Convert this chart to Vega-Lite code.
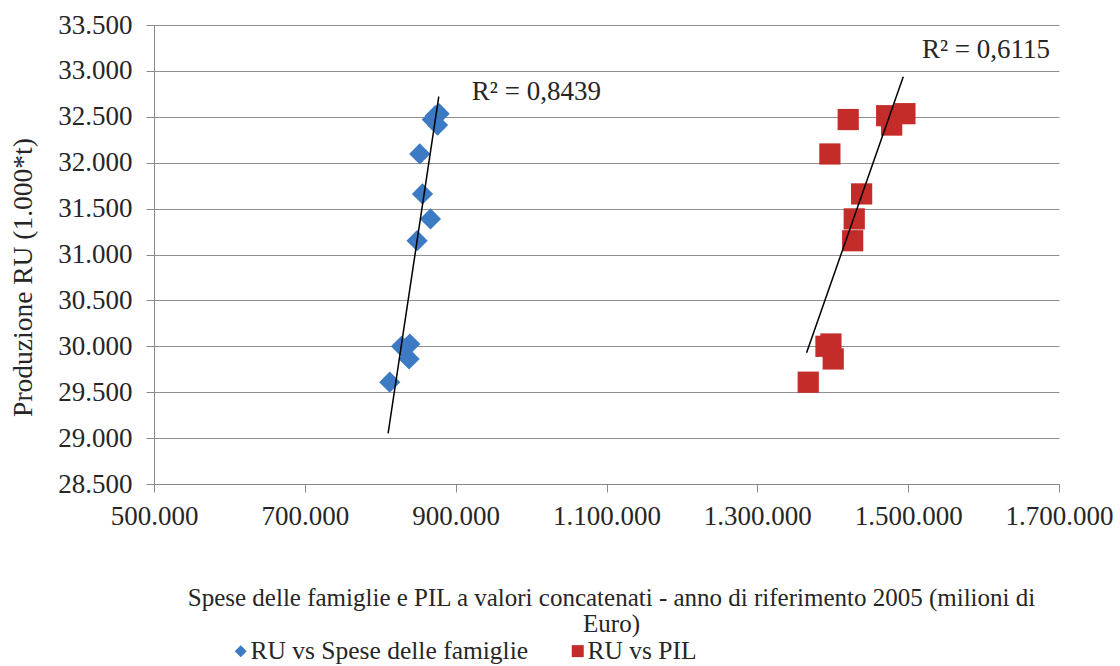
{
  "$schema": "https://vega.github.io/schema/vega-lite/v6.json",
  "autosize": {"type": "none"},
  "width": 905,
  "height": 459,
  "padding": {"left": 154, "top": 25, "right": 61, "bottom": 182},
  "background": "white",
  "config": {
    "locale": {"number": {"decimal": ",", "thousands": ".", "grouping": [3], "currency": ["€", ""]}},
    "view": {"stroke": null},
    "font": "Liberation Serif, Times New Roman, serif",
    "text": {"font": "Liberation Serif, Times New Roman, serif"},
    "axis": {"labelFont": "Liberation Serif, Times New Roman, serif", "titleFont": "Liberation Serif, Times New Roman, serif"},
    "legend": {"labelFont": "Liberation Serif, Times New Roman, serif", "titleFont": "Liberation Serif, Times New Roman, serif"}
  },
  "datasets": {
    "points": [
      {"serie": "RU vs Spese delle famiglie", "anno": 2001, "x": 812600, "y": 29609},
      {"serie": "RU vs Spese delle famiglie", "anno": 2002, "x": 838200, "y": 29862},
      {"serie": "RU vs Spese delle famiglie", "anno": 2003, "x": 839200, "y": 30025},
      {"serie": "RU vs Spese delle famiglie", "anno": 2004, "x": 848800, "y": 31150},
      {"serie": "RU vs Spese delle famiglie", "anno": 2005, "x": 856000, "y": 31660},
      {"serie": "RU vs Spese delle famiglie", "anno": 2006, "x": 873000, "y": 32512},
      {"serie": "RU vs Spese delle famiglie", "anno": 2007, "x": 878000, "y": 32534},
      {"serie": "RU vs Spese delle famiglie", "anno": 2008, "x": 876000, "y": 32410},
      {"serie": "RU vs Spese delle famiglie", "anno": 2009, "x": 852400, "y": 32095},
      {"serie": "RU vs Spese delle famiglie", "anno": 2010, "x": 869000, "y": 32470},
      {"serie": "RU vs Spese delle famiglie", "anno": 2011, "x": 866600, "y": 31388},
      {"serie": "RU vs Spese delle famiglie", "anno": 2012, "x": 828200, "y": 30000},
      {"serie": "RU vs PIL", "anno": 2001, "x": 1367500, "y": 29609},
      {"serie": "RU vs PIL", "anno": 2002, "x": 1400600, "y": 29862},
      {"serie": "RU vs PIL", "anno": 2003, "x": 1397600, "y": 30025},
      {"serie": "RU vs PIL", "anno": 2004, "x": 1426400, "y": 31150},
      {"serie": "RU vs PIL", "anno": 2005, "x": 1438300, "y": 31660},
      {"serie": "RU vs PIL", "anno": 2006, "x": 1471500, "y": 32512},
      {"serie": "RU vs PIL", "anno": 2007, "x": 1495700, "y": 32534},
      {"serie": "RU vs PIL", "anno": 2008, "x": 1478100, "y": 32410},
      {"serie": "RU vs PIL", "anno": 2009, "x": 1396200, "y": 32095},
      {"serie": "RU vs PIL", "anno": 2010, "x": 1420500, "y": 32470},
      {"serie": "RU vs PIL", "anno": 2011, "x": 1428500, "y": 31388},
      {"serie": "RU vs PIL", "anno": 2012, "x": 1391000, "y": 30000}
    ],
    "trend": [
      {"serie": "RU vs Spese delle famiglie", "x": 810400, "y": 29052},
      {"serie": "RU vs Spese delle famiglie", "x": 877600, "y": 32719},
      {"serie": "RU vs PIL", "x": 1365300, "y": 29930},
      {"serie": "RU vs PIL", "x": 1493500, "y": 32937}
    ],
    "labels": [
      {"testo": "R² = 0,8439", "x": 921400, "y": 32770},
      {"testo": "R² = 0,6115", "x": 1518200, "y": 33228}
    ]
  },
  "encoding": {
    "x": {
      "field": "x", "type": "quantitative",
      "scale": {"domain": [500000, 1700000], "nice": false, "zero": false},
      "axis": {
        "values": [500000, 700000, 900000, 1100000, 1300000, 1500000, 1700000],
        "format": ",d",
        "grid": false,
        "domainColor": "#8a8a8a",
        "tickColor": "#8a8a8a",
        "tickSize": 8,
        "labelPadding": 11,
        "labelFontSize": 27,
        "labelColor": "#262626",
        "labelFlush": false,
        "title": ["Spese delle famiglie e PIL a valori concatenati - anno di riferimento 2005 (milioni di", "Euro)"],
        "titleFontSize": 25,
        "titleFontWeight": "normal",
        "titleColor": "#262626",
        "titleLineHeight": 26,
        "titleBaseline": "top",
        "titleX": 457,
        "titleY": 101
      }
    },
    "y": {
      "field": "y", "type": "quantitative",
      "scale": {"domain": [28500, 33500], "nice": false, "zero": false},
      "axis": {
        "values": [28500, 29000, 29500, 30000, 30500, 31000, 31500, 32000, 32500, 33000, 33500],
        "format": ",d",
        "grid": true,
        "gridColor": "#8f8f8f",
        "gridWidth": 1,
        "domainColor": "#8a8a8a",
        "tickColor": "#8a8a8a",
        "tickSize": 8,
        "labelPadding": 14,
        "labelFontSize": 27,
        "labelColor": "#262626",
        "labelFlush": false,
        "title": "Produzione RU (1.000*t)",
        "titleFontSize": 27.5,
        "titleFontWeight": "normal",
        "titleColor": "#262626",
        "titleAngle": 270,
        "titleAlign": "center",
        "titleBaseline": "middle",
        "titleX": -131,
        "titleY": 252
      }
    }
  },
  "layer": [
    {
      "data": {"name": "points"},
      "mark": {"type": "point", "filled": true, "opacity": 1, "size": 450},
      "encoding": {
        "color": {
          "field": "serie", "type": "nominal",
          "scale": {"domain": ["RU vs Spese delle famiglie", "RU vs PIL"], "range": ["#3d7ac4", "#c42c2a"]},
          "legend": {
            "title": null,
            "orient": "none",
            "direction": "horizontal",
            "legendX": 74,
            "legendY": 613,
            "padding": 0,
            "symbolSize": 144,
            "symbolOpacity": 1,
            "labelFontSize": 25.5,
            "labelColor": "#262626",
            "labelOffset": -3,
            "columnPadding": 36,
            "labelLimit": 0
          }
        },
        "shape": {
          "field": "serie", "type": "nominal",
          "scale": {"domain": ["RU vs Spese delle famiglie", "RU vs PIL"], "range": ["diamond", "square"]},
          "legend": {
            "title": null,
            "orient": "none",
            "direction": "horizontal",
            "legendX": 74,
            "legendY": 613,
            "padding": 0,
            "symbolSize": 144,
            "symbolOpacity": 1,
            "labelFontSize": 25.5,
            "labelColor": "#262626",
            "labelOffset": -3,
            "columnPadding": 36,
            "labelLimit": 0
          }
        }
      }
    },
    {
      "data": {"name": "trend"},
      "mark": {"type": "line", "color": "black", "strokeWidth": 1.5},
      "encoding": {
        "detail": {"field": "serie", "type": "nominal"}
      }
    },
    {
      "data": {"name": "labels"},
      "mark": {"type": "text", "align": "left", "baseline": "middle", "fontSize": 27, "color": "#262626"},
      "encoding": {
        "text": {"field": "testo", "type": "nominal"}
      }
    }
  ]
}
